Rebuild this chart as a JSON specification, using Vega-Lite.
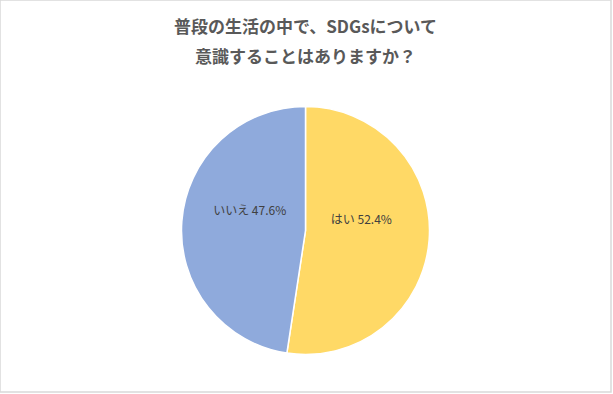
{
  "$schema": "https://vega.github.io/schema/vega-lite/v6.json",
  "width": 613,
  "height": 394,
  "padding": {"left": 0, "top": 0, "right": 2, "bottom": 2},
  "autosize": {"type": "fit", "contains": "padding"},
  "background": "white",
  "title": {
    "text": ["普段の生活の中で、SDGsについて", "意識することはありますか？"],
    "font": "Noto Sans CJK JP",
    "fontSize": 17,
    "fontWeight": "bold",
    "color": "#595959",
    "anchor": "middle",
    "frame": "group",
    "lineHeight": 30,
    "baseline": "top",
    "offset": -67
  },
  "config": {
    "view": {"stroke": "#d9d9d9", "strokeWidth": 1.5}
  },
  "data": {
    "values": [
      {"answer": "はい", "value": 52.4, "label": "はい 52.4%", "order": 1},
      {"answer": "いいえ", "value": 47.6, "label": "いいえ 47.6%", "order": 2}
    ]
  },
  "encoding": {
    "theta": {"field": "value", "type": "quantitative", "stack": true},
    "order": {"field": "order", "type": "quantitative"},
    "y": {"datum": 0, "type": "quantitative", "scale": {"domain": [-0.412, 0.588], "nice": false, "zero": false}, "axis": null}
  },
  "layer": [
    {
      "mark": {"type": "arc", "outerRadius": 124, "stroke": "white", "strokeWidth": 1.5},
      "encoding": {
        "color": {
          "field": "answer",
          "type": "nominal",
          "scale": {"domain": ["はい", "いいえ"], "range": ["#FFD966", "#8FAADC"]},
          "legend": null
        }
      }
    },
    {
      "mark": {"type": "text", "radius": 56, "dy": -15, "font": "Noto Sans CJK JP", "fontSize": 12, "color": "#404040"},
      "encoding": {
        "text": {"field": "label", "type": "nominal"}
      }
    }
  ]
}
